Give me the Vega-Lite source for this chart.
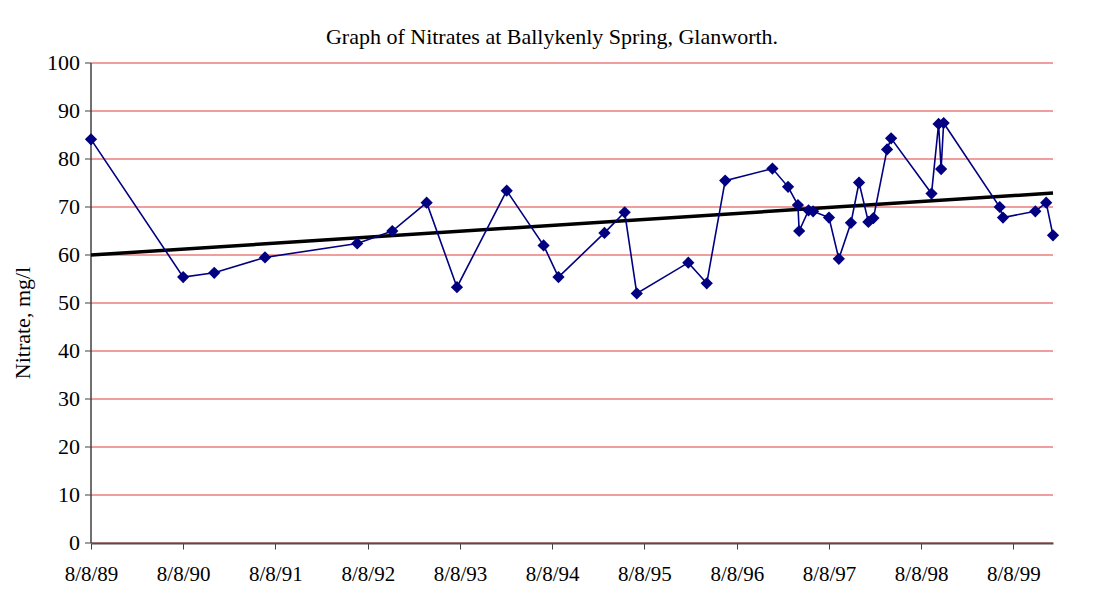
{
  "$schema": "https://vega.github.io/schema/vega-lite/v6.json",
  "width": 962,
  "height": 480,
  "autosize": {"type": "none"},
  "padding": {"left": 91, "top": 63, "right": 40, "bottom": 72},
  "background": "white",
  "title": {
    "text": "Graph of Nitrates at Ballykenly Spring, Glanworth.",
    "font": "Liberation Serif",
    "fontSize": 22,
    "fontWeight": "normal",
    "color": "#000000",
    "anchor": "middle",
    "dx": -20,
    "offset": 3
  },
  "datasets": {
    "nitrate": [
      {"date": "1989-08-08", "nitrate": 84.1},
      {"date": "1990-08-08", "nitrate": 55.4},
      {"date": "1990-12-09", "nitrate": 56.3},
      {"date": "1991-06-28", "nitrate": 59.5},
      {"date": "1992-06-27", "nitrate": 62.4},
      {"date": "1992-11-13", "nitrate": 65.0},
      {"date": "1993-03-29", "nitrate": 70.9},
      {"date": "1993-07-27", "nitrate": 53.3},
      {"date": "1994-02-09", "nitrate": 73.4},
      {"date": "1994-07-05", "nitrate": 62.0},
      {"date": "1994-09-02", "nitrate": 55.4},
      {"date": "1995-03-03", "nitrate": 64.6},
      {"date": "1995-05-22", "nitrate": 68.9},
      {"date": "1995-07-09", "nitrate": 52.0},
      {"date": "1996-01-29", "nitrate": 58.4},
      {"date": "1996-04-11", "nitrate": 54.1},
      {"date": "1996-06-23", "nitrate": 75.5},
      {"date": "1996-12-27", "nitrate": 78.0},
      {"date": "1997-02-27", "nitrate": 74.2},
      {"date": "1997-04-07", "nitrate": 70.4},
      {"date": "1997-04-12", "nitrate": 65.0},
      {"date": "1997-05-19", "nitrate": 69.3},
      {"date": "1997-06-06", "nitrate": 69.1},
      {"date": "1997-08-08", "nitrate": 67.8},
      {"date": "1997-09-16", "nitrate": 59.2},
      {"date": "1997-11-03", "nitrate": 66.7},
      {"date": "1997-12-05", "nitrate": 75.1},
      {"date": "1998-01-11", "nitrate": 66.9},
      {"date": "1998-01-31", "nitrate": 67.7},
      {"date": "1998-03-26", "nitrate": 82.0},
      {"date": "1998-04-11", "nitrate": 84.3},
      {"date": "1998-09-18", "nitrate": 72.8},
      {"date": "1998-10-16", "nitrate": 87.3},
      {"date": "1998-10-26", "nitrate": 77.9},
      {"date": "1998-11-05", "nitrate": 87.5},
      {"date": "1999-06-15", "nitrate": 70.0},
      {"date": "1999-06-28", "nitrate": 67.8},
      {"date": "1999-11-03", "nitrate": 69.1},
      {"date": "1999-12-16", "nitrate": 70.9},
      {"date": "2000-01-12", "nitrate": 64.1}
    ],
    "trend": [
      {"date": "1989-08-08", "nitrate": 60.0},
      {"date": "2000-01-12", "nitrate": 72.9}
    ]
  },
  "encoding": {
    "x": {
      "field": "date",
      "type": "temporal",
      "scale": {
        "type": "utc",
        "domain": [
          {"year": 1989, "month": 8, "date": 8, "utc": true},
          {"year": 2000, "month": 1, "date": 12, "utc": true}
        ]
      },
      "axis": {
        "title": null,
        "zindex": 1,
        "values": [
          {"year": 1989, "month": 8, "date": 8, "utc": true},
          {"year": 1990, "month": 8, "date": 8, "utc": true},
          {"year": 1991, "month": 8, "date": 8, "utc": true},
          {"year": 1992, "month": 8, "date": 8, "utc": true},
          {"year": 1993, "month": 8, "date": 8, "utc": true},
          {"year": 1994, "month": 8, "date": 8, "utc": true},
          {"year": 1995, "month": 8, "date": 8, "utc": true},
          {"year": 1996, "month": 8, "date": 8, "utc": true},
          {"year": 1997, "month": 8, "date": 8, "utc": true},
          {"year": 1998, "month": 8, "date": 8, "utc": true},
          {"year": 1999, "month": 8, "date": 8, "utc": true}
        ],
        "labelExpr": "utcFormat(datum.value, '%-m/%-d/%y')",
        "grid": false,
        "labelFont": "Liberation Serif",
        "labelFontSize": 21,
        "labelColor": "#000000",
        "labelPadding": 14,
        "labelFlush": false,
        "labelOverlap": false,
        "domainColor": "#505050",
        "domainWidth": 2,
        "tickColor": "#404040",
        "tickSize": 6,
        "tickWidth": 1
      }
    },
    "y": {
      "field": "nitrate",
      "type": "quantitative",
      "scale": {"domain": [0, 100], "nice": false, "zero": true},
      "axis": {
        "title": "Nitrate, mg/l",
        "titleFont": "Liberation Serif",
        "titleFontSize": 22,
        "titleFontWeight": "normal",
        "titleColor": "#000000",
        "titlePadding": 12,
        "titleY": 260,
        "values": [0, 10, 20, 30, 40, 50, 60, 70, 80, 90, 100],
        "labelFont": "Liberation Serif",
        "labelFontSize": 22,
        "labelColor": "#000000",
        "labelPadding": 5,
        "labelFlush": false,
        "translate": 0,
        "grid": true,
        "gridColor": "#e03c3c",
        "gridOpacity": 1,
        "gridWidth": 1,
        "domainColor": "#404040",
        "domainWidth": 1.5,
        "tickColor": "#404040",
        "tickSize": 6
      }
    }
  },
  "layer": [
    {
      "data": {"name": "trend"},
      "mark": {"type": "line", "color": "#000000", "strokeWidth": 3.5},
      "encoding": {}
    },
    {
      "data": {"name": "nitrate"},
      "mark": {
        "type": "line",
        "color": "#000080",
        "strokeWidth": 1.6,
        "point": {"filled": true, "shape": "diamond", "size": 150, "color": "#000080", "opacity": 1}
      },
      "encoding": {}
    }
  ],
  "config": {
    "view": {"stroke": null}
  }
}
